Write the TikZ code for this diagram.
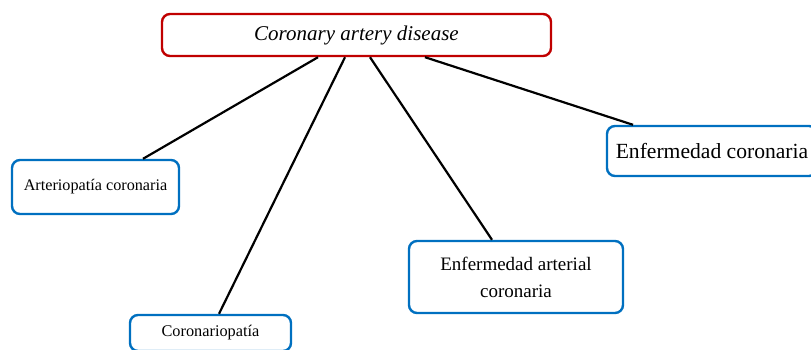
\documentclass[tikz,border=0pt]{standalone}
\usepackage{fontspec}
\setmainfont{Liberation Serif}
\definecolor{boxred}{HTML}{C00000}
\definecolor{boxblue}{HTML}{0070C0}
\begin{document}
\begin{tikzpicture}[x=1pt,y=-1pt,
  titlebox/.style={draw=boxred,line width=2.4pt,rounded corners=8pt,fill=white,inner sep=0pt,align=center},
  termbox/.style={draw=boxblue,line width=2.4pt,rounded corners=8pt,fill=white,inner sep=0pt,align=center},
  link/.style={line width=2.2pt,black}]
\useasboundingbox (0,0) rectangle (811,349);
\node[titlebox,minimum width=389pt,minimum height=42pt,font=\fontsize{21}{25}\selectfont\itshape] (top) at (356.5,35) {Coronary artery disease};
\node[termbox,minimum width=167pt,minimum height=54pt,font=\fontsize{16.2}{19}\selectfont] (arter) at (95.5,187) {Arteriopatía coronaria};
\node[termbox,minimum width=161pt,minimum height=36pt,font=\fontsize{16.3}{19}\selectfont] (coron) at (210.5,333) {Coronariopatía};
\node[termbox,minimum width=214pt,minimum height=72pt,font=\fontsize{19}{27}\selectfont] (enfart) at (516,277) {Enfermedad arterial\\coronaria};
\node[termbox,minimum width=210pt,minimum height=50pt,font=\fontsize{21.6}{25}\selectfont] (enfcor) at (712,151) {Enfermedad coronaria};
\draw[link] ([xshift=-38.5pt]top.south) -- ([xshift=47.5pt]arter.north);
\draw[link] ([xshift=-11.5pt]top.south) -- ([xshift=8.5pt]coron.north);
\draw[link] ([xshift=13.5pt]top.south) -- ([xshift=-24pt]enfart.north);
\draw[link] ([xshift=68.5pt]top.south) -- ([xshift=-79pt]enfcor.north);
\end{tikzpicture}
\end{document}
